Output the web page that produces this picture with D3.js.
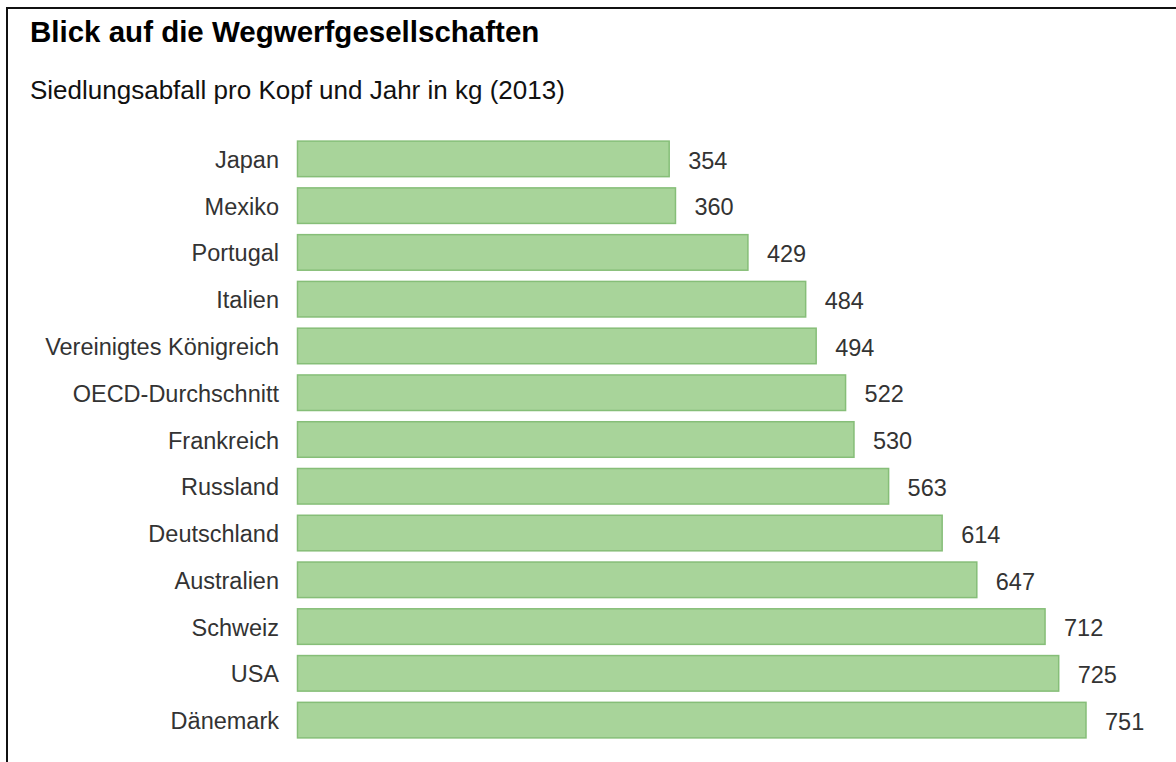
<!DOCTYPE html>
<html><head><meta charset="utf-8">
<script src="https://cdn.jsdelivr.net/npm/d3@7"></script>
<style>html,body{margin:0;padding:0;background:#fff;}svg{display:block;}text{font-family:"Liberation Sans",Arial,sans-serif;}</style>
</head><body>
<script>
const categories = ["Japan","Mexiko","Portugal","Italien","Vereinigtes Königreich","OECD-Durchschnitt","Frankreich","Russland","Deutschland","Australien","Schweiz","USA","Dänemark"];
const values = [354,360,429,484,494,522,530,563,614,647,712,725,751];
const title = "Blick auf die Wegwerfgesellschaften";
const subtitle = "Siedlungsabfall pro Kopf und Jahr in kg (2013)";

const W = 1176, H = 762;
const svg = d3.select("body").append("svg").attr("width", W).attr("height", H);
svg.append("rect").attr("x", 7).attr("y", 8).attr("width", 1200).attr("height", 800)
  .attr("fill", "#fff").attr("stroke", "#111").attr("stroke-width", 2);

svg.append("text").attr("x", 30).attr("y", 42).text(title)
  .attr("font-weight", "bold").attr("font-size", 29.5).attr("fill", "#000");
svg.append("text").attr("x", 30).attr("y", 98.5).text(subtitle)
  .attr("font-size", 26).attr("fill", "#111");

const x = d3.scaleLinear().domain([0, 751]).range([297.5, 1086]);
const y = d3.scaleBand().domain(categories).range([135.5, 743.5]).paddingInner(0.24).paddingOuter(0.12);

const data = categories.map((c, i) => ({c, v: values[i]}));
const g = svg.append("g");
g.selectAll("rect.bar").data(data).join("rect").attr("class", "bar")
  .attr("x", x(0)).attr("y", d => y(d.c)).attr("width", d => x(d.v) - x(0)).attr("height", y.bandwidth())
  .attr("fill", "#a8d49a").attr("stroke", "#86be78").attr("stroke-width", 1.5);

g.selectAll("text.val").data(data).join("text").attr("class", "val")
  .attr("x", d => x(d.v) + 19).attr("y", d => y(d.c) + y.bandwidth() / 2 + 1.5).attr("dy", "0.35em")
  .text(d => d.v).attr("font-size", 23.5).attr("fill", "#333");

const yAxis = svg.append("g").attr("transform", "translate(297,1.5)")
  .call(d3.axisLeft(y).tickSize(0).tickPadding(18));
yAxis.select(".domain").remove();
yAxis.selectAll("text").attr("font-size", 23.5).attr("fill", "#333");
yAxis.attr("font-family", null).attr("font-size", null);
</script>
</body></html>
